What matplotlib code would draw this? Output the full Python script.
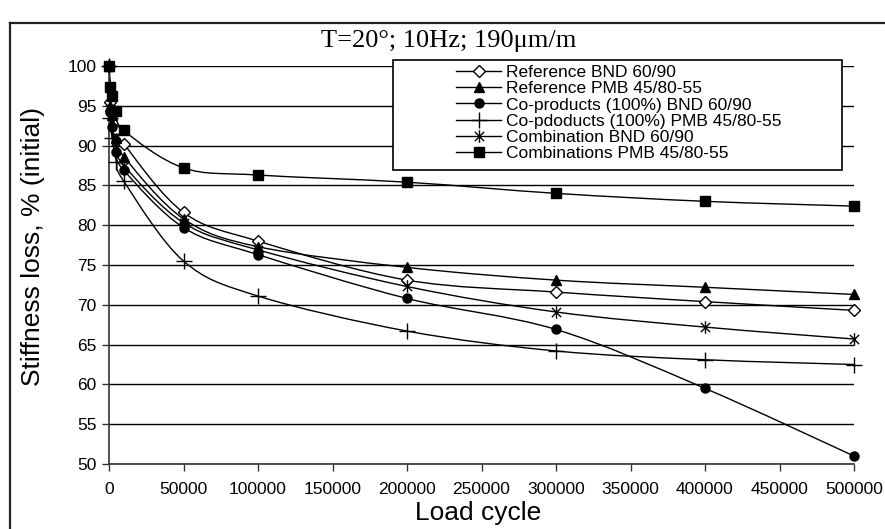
import numpy as np
import matplotlib
matplotlib.use("Agg")
import matplotlib.pyplot as plt
from matplotlib.path import Path
from matplotlib.patches import PathPatch, Rectangle
from matplotlib.lines import Line2D

plt.rcParams["font.family"] = ["Liberation Sans", "DejaVu Sans"]

# ── Data ────────────────────────────────────────────────────────────
cycles = [0, 1000, 2000, 5000, 10000, 50000, 100000, 200000, 300000, 400000, 500000]

ref_bnd = [100, 95.5, 94.0, 92.0, 90.2, 81.6, 78.0, 73.1, 71.6, 70.4, 69.3]
ref_pmb = [100, 95.0, 93.8, 91.0, 88.6, 80.8, 77.3, 74.7, 73.1, 72.2, 71.3]
coprod_bnd = [100, 94.2, 92.3, 89.2, 86.9, 79.7, 76.3, 70.8, 66.9, 59.5, 51.0]
coprod_pmb = [100, 93.5, 91.0, 88.0, 85.5, 75.5, 71.1, 66.7, 64.2, 63.1, 62.5]
comb_bnd = [100, 94.6, 93.0, 90.0, 87.5, 80.3, 76.9, 72.3, 69.1, 67.2, 65.7]
comb_pmb = [100, 97.3, 96.2, 94.3, 91.9, 87.2, 86.3, 85.4, 84.0, 83.0, 82.4]

labels = [
    "Reference BND 60/90",
    "Reference PMB 45/80-55",
    "Co-products (100%) BND 60/90",
    "Co-pdoducts (100%) PMB 45/80-55",
    "Combination BND 60/90",
    "Combinations PMB 45/80-55",
]
series = [ref_bnd, ref_pmb, coprod_bnd, coprod_pmb, comb_bnd, comb_pmb]

x_ticks = list(range(0, 500001, 50000))
y_ticks = list(range(50, 101, 5))

# asterisk-like marker (X plus vertical bar)
star = Path(
    [(-1, -1), (1, 1), (-1, 1), (1, -1), (0, -1.35), (0, 1.35)],
    [Path.MOVETO, Path.LINETO, Path.MOVETO, Path.LINETO, Path.MOVETO, Path.LINETO],
)

styles = [
    dict(marker="D", ms=6, mfc="white", mec="black", mew=1.0),
    dict(marker="^", ms=7.5, mfc="black", mec="black", mew=1.0),
    dict(marker="o", ms=6.5, mfc="black", mec="black", mew=1.0),
    dict(marker="+", ms=11, mfc="black", mec="black", mew=1.0),
    dict(marker=star, ms=9, mfc="black", mec="black", mew=1.0),
    dict(marker="s", ms=6.5, mfc="black", mec="black", mew=1.0),
]


def smooth_path(xs, ys):
    """Excel-style smoothed line (Catmull-Rom as cubic Bezier)."""
    pts = np.column_stack([xs, ys]).astype(float)
    n = len(pts)
    verts = [pts[0]]
    codes = [Path.MOVETO]
    for i in range(n - 1):
        p0 = pts[max(i - 1, 0)]
        p1 = pts[i]
        p2 = pts[i + 1]
        p3 = pts[min(i + 2, n - 1)]
        verts += [p1 + (p2 - p0) / 6, p2 - (p3 - p1) / 6, p2]
        codes += [Path.CURVE4] * 3
    return Path(verts, codes)


W, H = 885, 529
fig = plt.figure(figsize=(W / 100, H / 100), dpi=100)
ax = fig.add_axes([109 / W, 1 - 464 / H, (854 - 109) / W, (464 - 66) / H])

handles = []
for vals, lab, st in zip(series, labels, styles):
    ax.add_patch(PathPatch(smooth_path(cycles, vals), fill=False,
                           edgecolor="black", lw=1.0, zorder=2))
    ax.plot(cycles, vals, linestyle="none", zorder=3, clip_on=False, **st)
    handles.append(Line2D([], [], color="black", lw=1.0, label=lab, **st))

ax.set_xlim(0, 500000)
ax.set_ylim(50, 100)
ax.set_xticks(x_ticks)
ax.set_yticks(y_ticks)
ax.set_xticklabels([str(v) for v in x_ticks])
ax.tick_params(axis="both", labelsize=12.5, direction="out", length=5,
               width=1.0, color="#333333")
ax.tick_params(axis="x", pad=8)
ax.tick_params(axis="y", pad=4)
ax.yaxis.grid(True, color="black", lw=1.0)
ax.set_axisbelow(True)
for side in ("top", "right"):
    ax.spines[side].set_visible(False)
for side in ("left", "bottom"):
    ax.spines[side].set_color("#333333")
    ax.spines[side].set_linewidth(1.2)

# ── Legend (box drawn separately to match the wide Excel frame) ─────
ax.add_patch(Rectangle((393 / W, 1 - 170 / H), (842 - 393) / W, (170 - 60) / H,
                       transform=fig.transFigure, facecolor="white",
                       edgecolor="black", lw=1.2, zorder=4, clip_on=False))
leg = ax.legend(handles=handles, loc="upper left",
                bbox_to_anchor=(456 / W, 1 - 65 / H),
                bbox_transform=fig.transFigure, frameon=False,
                fontsize=12.5, handlelength=2.6, handletextpad=0.3,
                labelspacing=0.06, borderpad=0, borderaxespad=0)
leg.set_zorder(5)

# ── Texts ───────────────────────────────────────────────────────────
fig.text(449 / W, 1 - 41 / H, "T=20°; 10Hz; 190μm/m", ha="center", va="center",
         fontsize=19, family=["Liberation Serif", "DejaVu Serif"])
fig.text(478 / W, 1 - 513 / H, "Load cycle", ha="center", va="center", fontsize=19)
fig.text(33 / W, 1 - 247 / H, "Stiffness loss, % (initial)", ha="center",
         va="center", rotation=90, fontsize=19)

# outer chart border (top and left edges visible)
fig.add_artist(Line2D([10 / W, 1], [1 - 23 / H, 1 - 23 / H],
                      transform=fig.transFigure, color="#222222", lw=1.6))
fig.add_artist(Line2D([10 / W, 10 / W], [0, 1 - 23 / H],
                      transform=fig.transFigure, color="#222222", lw=1.6))

fig.savefig("out.png", dpi=100)
